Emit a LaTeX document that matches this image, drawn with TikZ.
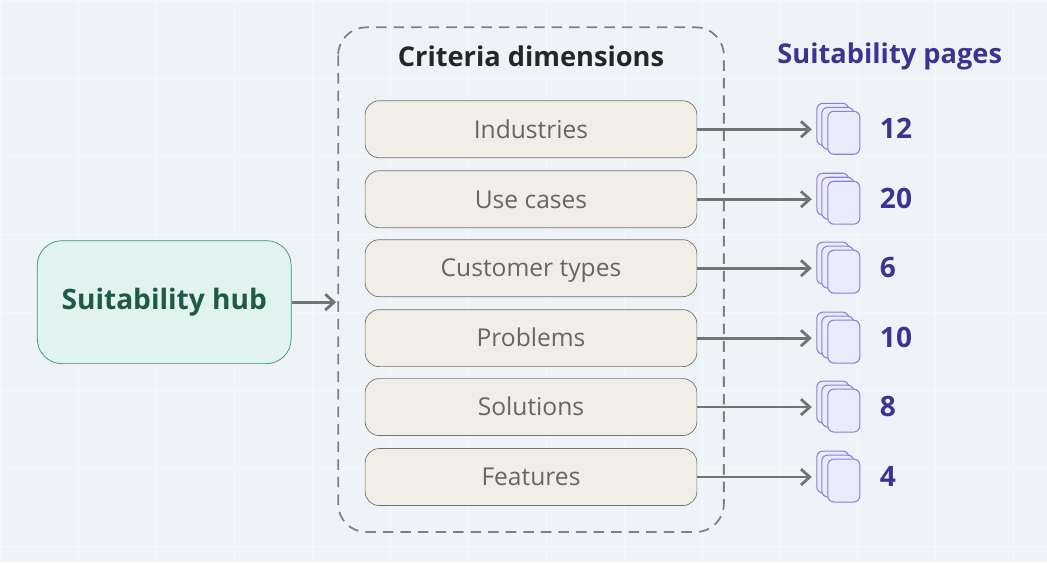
\documentclass[tikz,border=0pt]{standalone}
\usepackage{fontspec}
\setmainfont{Open Sans}
\begin{document}
\begin{tikzpicture}[x=0.02cm,y=-0.02cm,
  crit/.style={draw=black!55,fill=critfill,rounded corners=8pt,minimum width=332*0.02cm,minimum height=57*0.02cm,text height=11.5pt,text depth=1.5pt,font=\fontsize{14}{17}\selectfont,text=black!60},
  pg/.style={draw=pgdraw,fill=pgfill,rounded corners=3.5pt,line width=0.6pt},
  conn/.style={draw=black!55,line width=1.6pt,->,>={Straight Barb[length=5pt,width=9pt]}},
  num/.style={font=\bfseries\fontsize{16}{19}\selectfont,text=numcol,anchor=west}]
\usetikzlibrary{arrows.meta}
\definecolor{bg}{HTML}{EEF3F8}
\definecolor{critfill}{HTML}{F1EEE8}
\definecolor{pgdraw}{HTML}{8A80D8}
\definecolor{pgfill}{HTML}{ECEBFB}
\definecolor{numcol}{HTML}{3A3590}
\definecolor{hubfill}{HTML}{E0F3EE}
\definecolor{hubdraw}{HTML}{3E9070}
\definecolor{hubtext}{HTML}{1E5A44}
\fill[bg] (0,0) rectangle (1047,562);
\foreach \x in {0,78,...,1047} \draw[white!40!bg,line width=0.4pt] (\x,0)--(\x,562);
\foreach \y in {0,78,...,562} \draw[white!40!bg,line width=0.4pt] (0,\y)--(1047,\y);
\useasboundingbox (0,0) rectangle (1047,562);
\node[draw=hubdraw,fill=hubfill,rounded corners=14pt,minimum width=254*0.02cm,minimum height=123*0.02cm,font=\bfseries\fontsize{16}{19}\selectfont,text=hubtext] (hub) at (164,302) {Suitability hub};
\draw[draw=black!50,dashed,line width=1pt,dash pattern=on 6pt off 4pt,rounded corners=16pt] (338,27) rectangle (724,532);
\coordinate (dim) at (336,302);
\node[font=\bfseries\fontsize{15.5}{19}\selectfont,text=black!85] (title) at (531,56) {Criteria dimensions};
\node[font=\bfseries\fontsize{15.5}{19}\selectfont,text=numcol] (ptitle) at (890,56) {Suitability pages};
\draw[conn] (hub.east) -- (dim);
\foreach \name/\lab/\y/\n in {a/Industries/129/12,b/Use cases/199/20,c/Customer types/268/6,d/Problems/338/10,e/Solutions/407/8,f/Features/477/4}{
  \node[crit] (\name) at (531,\y) {\lab};
  \draw[pg] (817,\y-26) rectangle (849,\y+16);
  \draw[pg] (822,\y-22) rectangle (854,\y+20);
  \draw[pg] (828,\y-18) rectangle (860,\y+25);
  \coordinate (\name p) at (812,\y);
  \draw[conn] (\name.east) -- (\name p);
  \node[num] (\name n) at (874,\y-1) {\n};
}
\end{tikzpicture}
\end{document}
